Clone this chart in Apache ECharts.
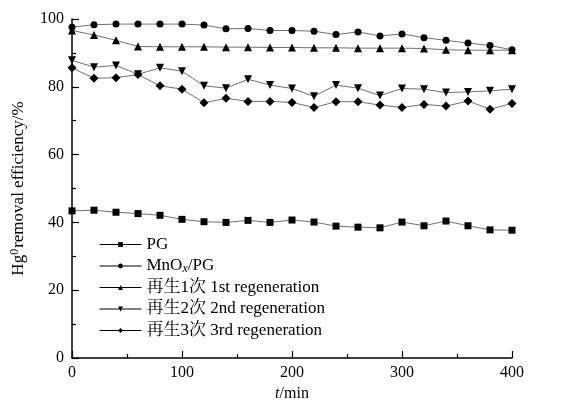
<!DOCTYPE html>
<html>
<head>
<meta charset="utf-8">
<script src="https://cdn.jsdelivr.net/npm/echarts@6/dist/echarts.min.js"></script>
<style>
html, body { margin: 0; padding: 0; background: #fff; }
#chart { width: 562px; height: 407px; }
</style>
</head>
<body>
<div id="chart"></div>
<script>
// time points, min
var times = [0, 20, 40, 60, 80, 100, 120, 140, 160, 180, 200, 220, 240, 260, 280, 300, 320, 340, 360, 380, 400];

var pg = [43.4, 43.6, 43.0, 42.6, 42.1, 40.9, 40.2, 40.0, 40.6, 40.0, 40.7, 40.1, 38.9, 38.6, 38.4, 40.1, 39.0, 40.4, 39.0, 37.8, 37.7];
var mnox = [97.6, 98.3, 98.5, 98.5, 98.5, 98.5, 98.2, 97.1, 97.2, 96.6, 96.6, 96.4, 95.4, 96.2, 95.0, 95.6, 94.5, 93.7, 92.9, 92.2, 90.9];
var regen1 = [96.6, 95.3, 93.7, 91.9, 91.8, 91.8, 91.8, 91.7, 91.7, 91.6, 91.6, 91.5, 91.5, 91.4, 91.4, 91.4, 91.3, 90.9, 90.8, 90.8, 90.8];
var regen2 = [87.8, 85.8, 86.3, 83.7, 85.6, 84.6, 80.3, 79.6, 82.2, 80.5, 79.5, 77.2, 80.5, 79.6, 77.4, 79.5, 79.3, 78.3, 78.5, 78.8, 79.3];
var regen3 = [85.6, 82.5, 82.7, 83.6, 80.3, 79.3, 75.3, 76.6, 75.7, 75.7, 75.4, 73.9, 75.6, 75.6, 74.6, 73.9, 74.8, 74.3, 75.8, 73.4, 75.1];

var seriesNames = ['PG', 'MnOx/PG', '再生1次 1st regeneration', '再生2次 2nd regeneration', '再生3次 3rd regeneration'];

var font = "'Liberation Serif', 'Noto Serif CJK SC', 'Noto Sans CJK SC', serif";

function pairs(vals) {
	return times.map(function (t, i) { return [t, vals[i]]; });
}

function makeSeries(name, vals, symbol, size) {
	return {
		name: name,
		type: 'line',
		data: pairs(vals),
		symbol: symbol,
		symbolSize: size,
		showAllSymbol: true,
		lineStyle: { color: '#707070', width: 1 },
		itemStyle: { color: '#000' },
		emphasis: { disabled: true },
		animation: false
	};
}

var chart = echarts.init(document.getElementById('chart'));

var option = {
	backgroundColor: '#fff',
	grid: { left: 72, right: 50, top: 19, bottom: 45 },
	legend: {
		data: seriesNames,
		orient: 'vertical',
		left: 94,
		top: 231,
		itemWidth: 42,
		itemHeight: 6,
		itemGap: 4.5,
		lineStyle: { color: '#000', width: 1 },
		textStyle: {
			fontFamily: font,
			fontSize: 17,
			lineHeight: 17,
			color: '#000',
			rich: {
				n: { fontFamily: font, fontSize: 17, color: '#000' },
				x: { fontFamily: font, fontSize: 12, fontStyle: 'italic', color: '#000', verticalAlign: 'bottom', padding: [6, 0, 0, 0] }
			}
		},
		formatter: function (name) {
			if (name === 'MnOx/PG') {
				return '{n|MnO}{x|x}{n|/PG}';
			}
			return name;
		}
	},
	xAxis: {
		type: 'value',
		min: 0,
		max: 400,
		interval: 100,
		name: '{i|t}/min',
		nameLocation: 'middle',
		nameGap: 28,
		nameTextStyle: {
			fontFamily: font,
			fontSize: 16,
			color: '#000',
			rich: { i: { fontFamily: font, fontSize: 16, fontStyle: 'italic', color: '#000' } }
		},
		axisLine: { show: true, lineStyle: { color: '#000', width: 1.5 } },
		axisTick: { show: true, inside: true, length: 7, lineStyle: { color: '#000', width: 1.2 } },
		minorTick: { show: true, splitNumber: 2, length: 4, lineStyle: { color: '#000', width: 1.2 } },
		axisLabel: { fontFamily: font, fontSize: 16, color: '#000', margin: 7 },
		splitLine: { show: false }
	},
	yAxis: {
		type: 'value',
		min: 0,
		max: 100,
		interval: 20,
		name: 'Hg{s|0}removal efficiency/%',
		nameLocation: 'middle',
		nameGap: 43,
		nameRotate: 90,
		nameTextStyle: {
			fontFamily: font,
			fontSize: 17,
			color: '#000',
			rich: { s: { fontFamily: font, fontSize: 12, color: '#000', verticalAlign: 'top', padding: [0, 1, 8, 0] } }
		},
		axisLine: { show: true, lineStyle: { color: '#000', width: 1.5 } },
		axisTick: { show: true, inside: true, length: 7, lineStyle: { color: '#000', width: 1.2 } },
		minorTick: { show: true, splitNumber: 2, length: 4, lineStyle: { color: '#000', width: 1.2 } },
		axisLabel: { fontFamily: font, fontSize: 16, color: '#000', margin: 8 },
		splitLine: { show: false }
	},
	series: [
		makeSeries(seriesNames[0], pg, 'rect', 7),
		makeSeries(seriesNames[1], mnox, 'circle', 7),
		makeSeries(seriesNames[2], regen1, 'triangle', 8),
		makeSeries(seriesNames[3], regen2, 'path://M0,0 L10,0 L5,9 Z', 8),
		makeSeries(seriesNames[4], regen3, 'diamond', 9)
	]
};

chart.setOption(option);
</script>
</body>
</html>
